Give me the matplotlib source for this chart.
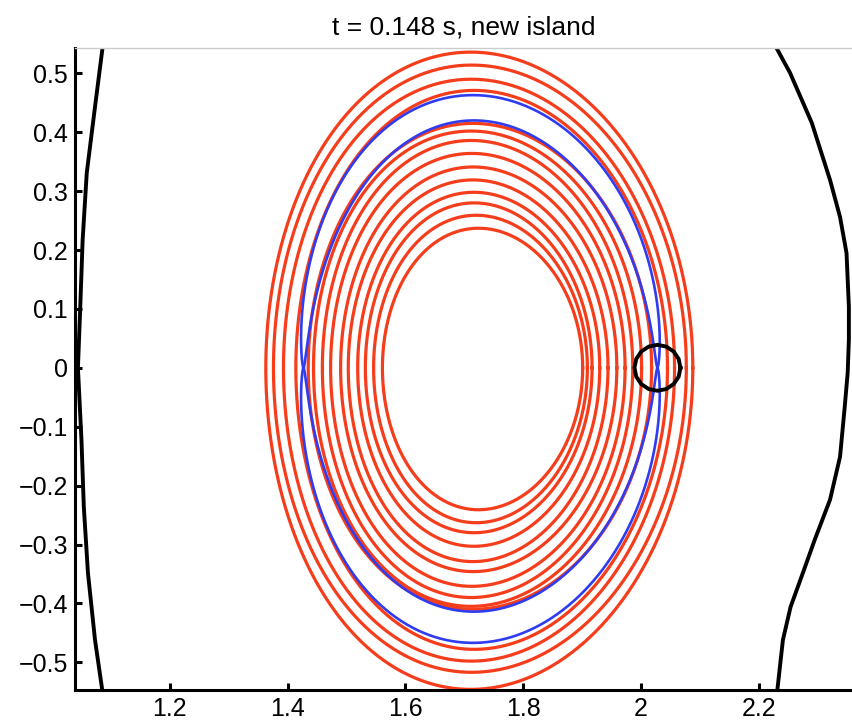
import matplotlib
matplotlib.use("Agg")
import matplotlib.pyplot as plt
import numpy as np
from matplotlib.ticker import FuncFormatter

plt.rcParams["font.family"] = ["Liberation Sans", "DejaVu Sans"]

TITLE = "t = 0.148 s, new island"

# flux surfaces outside the island: extents (R left, R right, Z top, Z bottom)
outer_left = [1.363, 1.376, 1.393, 1.414]
outer_right = [2.088, 2.077, 2.057, 2.045]
outer_top = [0.536, 0.514, 0.490, 0.471]
outer_bottom = [-0.546, -0.517, -0.498, -0.478]

# flux surfaces inside the island
inner_left = [1.435, 1.444, 1.459, 1.473, 1.490, 1.503, 1.519, 1.532, 1.546, 1.561]
inner_right = [2.018, 2.001, 1.986, 1.973, 1.959, 1.944, 1.930, 1.917, 1.909, 1.901]
inner_top = [0.415, 0.402, 0.386, 0.364, 0.341, 0.319, 0.298, 0.280, 0.259, 0.237]
inner_bottom = [-0.410, -0.405, -0.390, -0.371, -0.346, -0.329, -0.303, -0.280, -0.263, -0.241]

# separatrix: X-points and O-point extents
sep_x_left, sep_x_right = 1.427, 2.028
sep_top = [0.463, 0.420]  # outer, inner
sep_bottom = [-0.467, -0.414]
sep_dx = 0.022

# triangularity of the surfaces
tri = 0.04

# wall traces
wall_l_r = [1.086, 1.073, 1.059, 1.052, 1.048, 1.044, 1.050, 1.054, 1.061, 1.073, 1.086]
wall_l_z = [0.545, 0.443, 0.331, 0.217, 0.104, 0.0, -0.122, -0.236, -0.348, -0.462, -0.552]
wall_r_r = [2.229, 2.253, 2.290, 2.321, 2.338, 2.349, 2.353, 2.353, 2.351, 2.346,
            2.338, 2.321, 2.295, 2.275, 2.254, 2.241, 2.231]
wall_r_z = [0.545, 0.501, 0.416, 0.319, 0.256, 0.195, 0.104, 0.048, -0.008, -0.066,
            -0.151, -0.224, -0.292, -0.348, -0.406, -0.462, -0.552]

# probe position and radius
probe_r, probe_z, probe_rad = 2.028, 0.0, 0.039

RED = "#f83c1a"
BLUE = "#2f3cf0"


def surface(left, right, top, bottom, n=400):
    th = np.linspace(0, 2 * np.pi, n)
    xc, a = (left + right) / 2, (right - left) / 2
    s = np.sin(th)
    x = xc + a * np.cos(th + tri * s)
    y = np.where(s >= 0, top * s, -bottom * s)
    return x, y


def separatrix(sign, n=800):
    th = np.linspace(0, 2 * np.pi, n)
    xc, a = (sep_x_left + sep_x_right) / 2, (sep_x_right - sep_x_left) / 2
    bt = (sep_top[0] + sep_top[1]) / 2
    bb = -(sep_bottom[0] + sep_bottom[1]) / 2
    dyt = (sep_top[0] - sep_top[1]) / 2
    dyb = -(sep_bottom[0] - sep_bottom[1]) / 2
    s = np.sin(th)
    w = sign * np.abs(s) ** 0.6
    x = xc + (a + sep_dx * w) * np.cos(th + tri * s)
    y = np.where(s >= 0, (bt + dyt * w) * s, (bb + dyb * w) * s)
    return x, y


def tick_fmt(v, pos):
    txt = "%g" % (round(v, 2) + 0.0)
    return txt.replace("-", "\u2212")


fig = plt.figure(figsize=(8.53, 7.25), dpi=100)
ax = fig.add_axes([0.0879, 0.0483, 0.9121, 0.8855])

for l, r, t, b in zip(outer_left, outer_right, outer_top, outer_bottom):
    x, y = surface(l, r, t, b)
    ax.plot(x, y, color=RED, lw=2.3)
    ax.plot(x, y, color="#9a6a60", lw=0.4, alpha=0.5, dashes=(6, 14))
for l, r, t, b in zip(inner_left, inner_right, inner_top, inner_bottom):
    x, y = surface(l, r, t, b)
    ax.plot(x, y, color=RED, lw=2.3)
    ax.plot(x, y, color="#9a6a60", lw=0.4, alpha=0.5, dashes=(6, 14))

for sign in (1, -1):
    x, y = separatrix(sign)
    ax.plot(x, y, color=BLUE, lw=1.9)

ax.plot(wall_l_r, wall_l_z, color="k", lw=2.8)
ax.plot(wall_r_r, wall_r_z, color="k", lw=2.8)

th = np.linspace(0, 2 * np.pi, 17)
ax.plot(probe_r + probe_rad * np.cos(th), probe_z + probe_rad * np.sin(th), color="k", lw=2.8)

ax.set_xlim(1.039, 2.36)
ax.set_ylim(-0.547, 0.543)
ax.set_xticks(np.arange(1.2, 2.21, 0.2))
ax.set_yticks(np.arange(-0.5, 0.51, 0.1))
ax.xaxis.set_major_formatter(FuncFormatter(tick_fmt))
ax.yaxis.set_major_formatter(FuncFormatter(tick_fmt))
ax.tick_params(direction="in", length=5, width=2.2, labelsize=18, pad=5)
for side in ("left", "bottom"):
    ax.spines[side].set_linewidth(2.2)
ax.spines["right"].set_visible(False)
ax.spines["top"].set_color("#cccccc")
ax.spines["top"].set_linewidth(1.0)
ax.set_title(TITLE, fontsize=19, pad=10)

fig.savefig("out.png", dpi=100)
